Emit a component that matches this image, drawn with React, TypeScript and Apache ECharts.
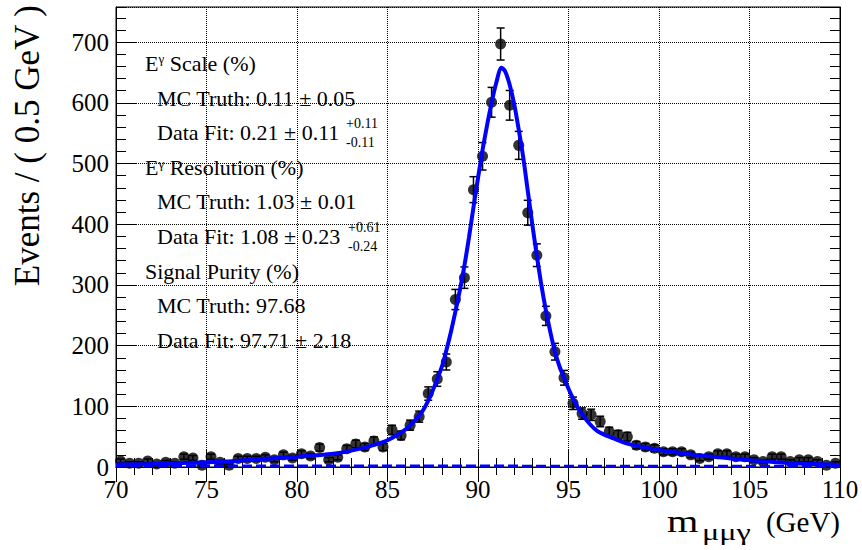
import React, { useEffect, useRef } from "react";
import * as echarts from "echarts";

// Bin centres (GeV), 0.5 GeV bins
const binCenters = [
  70.25, 70.75, 71.25, 71.75, 72.25, 72.75, 73.25, 73.75, 74.25, 74.75,
  75.25, 75.75, 76.25, 76.75, 77.25, 77.75, 78.25, 78.75, 79.25, 79.75,
  80.25, 80.75, 81.25, 81.75, 82.25, 82.75, 83.25, 83.75, 84.25, 84.75,
  85.25, 85.75, 86.25, 86.75, 87.25, 87.75, 88.25, 88.75, 89.25, 89.75,
  90.25, 90.75, 91.25, 91.75, 92.25, 92.75, 93.25, 93.75, 94.25, 94.75,
  95.25, 95.75, 96.25, 96.75, 97.25, 97.75, 98.25, 98.75, 99.25, 99.75,
  100.25, 100.75, 101.25, 101.75, 102.25, 102.75, 103.25, 103.75, 104.25, 104.75,
  105.25, 105.75, 106.25, 106.75, 107.25, 107.75, 108.25, 108.75, 109.25, 109.75,
];
// Events per bin
const counts = [
  10, 6, 6, 10, 5, 8, 6, 17, 15, 3,
  17, 8, 3, 14, 14, 14, 16, 12, 20, 15,
  22, 18, 32, 12, 16, 30, 38, 33, 43, 33,
  61, 52, 69, 83, 121, 145, 173, 276, 312, 457,
  512, 601, 697, 596, 530, 419, 349, 249, 190, 147,
  105, 88, 86, 75, 58, 53, 50, 36, 33, 31,
  25, 25, 25, 20, 14, 17, 22, 22, 17, 17,
  12, 9, 17, 17, 9, 12, 12, 9, 3, 6,
];
// Fit curve (total pdf)
const fitX = [
  70, 72, 74, 76, 78, 80, 82, 83, 84, 85, 86, 86.5, 87, 87.5,
  88, 88.25, 88.5, 88.75, 89, 89.25, 89.5, 89.75, 90, 90.25, 90.5, 90.75,
  91, 91.3, 91.5, 91.75, 92, 92.25, 92.5, 92.75, 93, 93.25, 93.5, 93.75,
  94, 94.25, 94.5, 94.75, 95, 95.25, 95.5, 95.8, 96.2, 96.6, 97, 97.5,
  98, 98.6, 99.2, 100, 101, 102, 103, 104, 105, 106, 107, 108, 109, 110,
];
const fitY = [
  4, 5, 7, 9, 13, 17, 22, 27, 34, 44, 62, 76, 95, 126,
  165, 192, 222, 256, 292, 332, 378, 428, 476, 522, 563, 600,
  632, 658, 652, 630, 598, 556, 510, 455, 400, 348, 300, 258,
  222, 190, 166, 147, 129, 113, 99, 85, 70, 59, 53, 47,
  41, 36, 32, 28, 24, 20, 17, 14, 11, 9, 7, 5.5, 4.5, 3.5,
];
// Background component (dashed)
const bkgX = [70, 110];
const bkgY = [2, 1];

const F = "Liberation Serif";

export default function App() {
  const ref = useRef<HTMLDivElement>(null);
  useEffect(() => {
    if (!ref.current) return;
    const chart = echarts.init(ref.current, null, { renderer: "svg" });
    const black = "#000";
    const tickStyle = { color: black, width: 1 };
    const txt = (x: number, y: number, text: string, size: number, extra: any = {}, sx = 1) => ({
      type: "text",
      x,
      y,
      scaleX: sx,
      silent: true,
      z: 100,
      style: {
        text,
        fill: black,
        fontSize: size,
        fontFamily: F,
        align: "left",
        verticalAlign: "middle",
        textAlign: "left",
        textVerticalAlign: "middle",
        ...extra,
      },
    });
    const eg = (x: number, y: number, rest: string) => ({
      type: "text",
      x,
      y,
      silent: true,
      z: 100,
      style: {
        text: `{a|E}{b|γ}{a| ${rest}}`,
        align: "left",
        verticalAlign: "middle",
        rich: {
          a: { fontSize: 22, fontFamily: F, fill: black },
          b: { fontSize: 13, fontFamily: F, fill: black, verticalAlign: "top" },
        },
      },
    });
    chart.setOption({
      animation: false,
      backgroundColor: "#fff",
      grid: {
        left: 116,
        right: 22,
        top: 7,
        bottom: 83,
        show: true,
        borderColor: black,
        borderWidth: 1,
        containLabel: false,
      },
      xAxis: [
        {
          type: "value",
          min: 70,
          max: 110,
          interval: 5,
          position: "bottom",
          axisLine: { show: true, lineStyle: tickStyle },
          axisTick: { show: true, inside: true, length: 17, lineStyle: tickStyle },
          minorTick: { show: true, splitNumber: 5, length: 9, lineStyle: tickStyle },
          axisLabel: { fontSize: 25, fontFamily: F, color: black, margin: 10 },
          splitLine: { show: true, lineStyle: { type: "dotted", color: black, width: 1 } },
        },
        {
          type: "value",
          min: 70,
          max: 110,
          interval: 5,
          position: "top",
          axisLine: { show: true, lineStyle: tickStyle },
          axisTick: { show: true, inside: true, length: 15, lineStyle: tickStyle },
          minorTick: { show: true, splitNumber: 5, length: 8, lineStyle: tickStyle },
          axisLabel: { show: false },
          splitLine: { show: false },
        },
      ],
      yAxis: [
        {
          type: "value",
          min: 0,
          max: 758,
          interval: 100,
          position: "left",
          axisLine: { show: true, lineStyle: tickStyle },
          axisTick: { show: true, inside: true, length: 20, lineStyle: tickStyle },
          axisLabel: { fontSize: 25, fontFamily: F, color: black, margin: 7, showMaxLabel: false },
          splitLine: { show: true, lineStyle: { type: "dotted", color: black, width: 1 } },
        },
        {
          type: "value",
          min: 0,
          max: 758,
          interval: 20,
          position: "left",
          axisLine: { show: false },
          axisTick: { show: true, inside: true, length: 10, lineStyle: tickStyle },
          axisLabel: { show: false },
          splitLine: { show: false },
        },
        {
          type: "value",
          min: 0,
          max: 758,
          interval: 100,
          position: "right",
          axisLine: { show: true, lineStyle: tickStyle },
          axisTick: { show: true, inside: true, length: 20, lineStyle: tickStyle },
          axisLabel: { show: false },
          splitLine: { show: false },
        },
        {
          type: "value",
          min: 0,
          max: 758,
          interval: 20,
          position: "right",
          axisLine: { show: false },
          axisTick: { show: true, inside: true, length: 10, lineStyle: tickStyle },
          axisLabel: { show: false },
          splitLine: { show: false },
        },
      ],
      series: [
        {
          type: "custom",
          silent: true,
          xAxisIndex: 0,
          yAxisIndex: 0,
          data: counts.map((c, i) => [binCenters[i], c, Math.sqrt(c)]),
          encode: { x: 0, y: 1 },
          renderItem: (params: any, api: any) => {
            const x = api.value(0);
            const y = api.value(1);
            const e = api.value(2);
            const t = api.coord([x, y + e]);
            const b = api.coord([x, y - e]);
            const hw = 4;
            const st = { stroke: black, lineWidth: 1.5 };
            return {
              type: "group",
              children: [
                { type: "line", shape: { x1: t[0], y1: t[1], x2: b[0], y2: b[1] }, style: st },
                { type: "line", shape: { x1: t[0] - hw, y1: t[1], x2: t[0] + hw, y2: t[1] }, style: st },
                { type: "line", shape: { x1: b[0] - hw, y1: b[1], x2: b[0] + hw, y2: b[1] }, style: st },
              ],
            };
          },
        },
        {
          type: "scatter",
          silent: true,
          symbol: "circle",
          symbolSize: 11,
          itemStyle: { color: black },
          data: counts.map((c, i) => [binCenters[i], c]),
        },
        {
          type: "line",
          silent: true,
          showSymbol: false,
          symbol: "none",
          smooth: 0.3,
          lineStyle: { color: "#0000ff", width: 4 },
          data: fitX.map((x, i) => [x, fitY[i]]),
        },
        {
          type: "line",
          silent: true,
          showSymbol: false,
          symbol: "none",
          lineStyle: { color: "#0000ff", width: 3, type: [10, 4] },
          data: bkgX.map((x, i) => [x, bkgY[i]]),
        },
      ],
      graphic: [
        eg(145, 63, "Scale (%)"),
        txt(157, 98, "MC Truth: 0.11 ± 0.05", 22),
        txt(157, 132.5, "Data Fit: 0.21 ± 0.11", 22),
        txt(346, 123, "+0.11", 14),
        txt(346, 142, "-0.11", 14),
        eg(145, 167.5, "Resolution (%)"),
        txt(157, 201, "MC Truth: 1.03 ± 0.01", 22),
        txt(157, 236.5, "Data Fit: 1.08 ± 0.23", 22),
        txt(348, 227.5, "+0.61", 14),
        txt(348, 246, "-0.24", 14),
        txt(145, 271, "Signal Purity (%)", 22),
        txt(157, 305.5, "MC Truth: 97.68", 22),
        txt(157, 340.5, "Data Fit: 97.71 ± 2.18", 22),
        {
          type: "text",
          x: 27,
          y: 5,
          rotation: Math.PI / 2,
          silent: true,
          style: {
            text: "Events / ( 0.5 GeV )",
            fill: black,
            fontSize: 35,
            fontFamily: F,
            align: "right",
            verticalAlign: "middle",
            textAlign: "right",
            textVerticalAlign: "middle",
          },
        },
        txt(840, 521.5, "(GeV)", 29, { align: "right", textAlign: "right" }),
        txt(667, 521.5, "m", 31, {}, 1.3),
        txt(702, 532, "μμγ", 23, {}, 1.4),
      ],
    });
    return () => chart.dispose();
  }, []);
  return (
    <div
      ref={ref}
      style={{ position: "fixed", left: 0, top: 0, width: 862, height: 550, background: "#fff" }}
    />
  );
}
